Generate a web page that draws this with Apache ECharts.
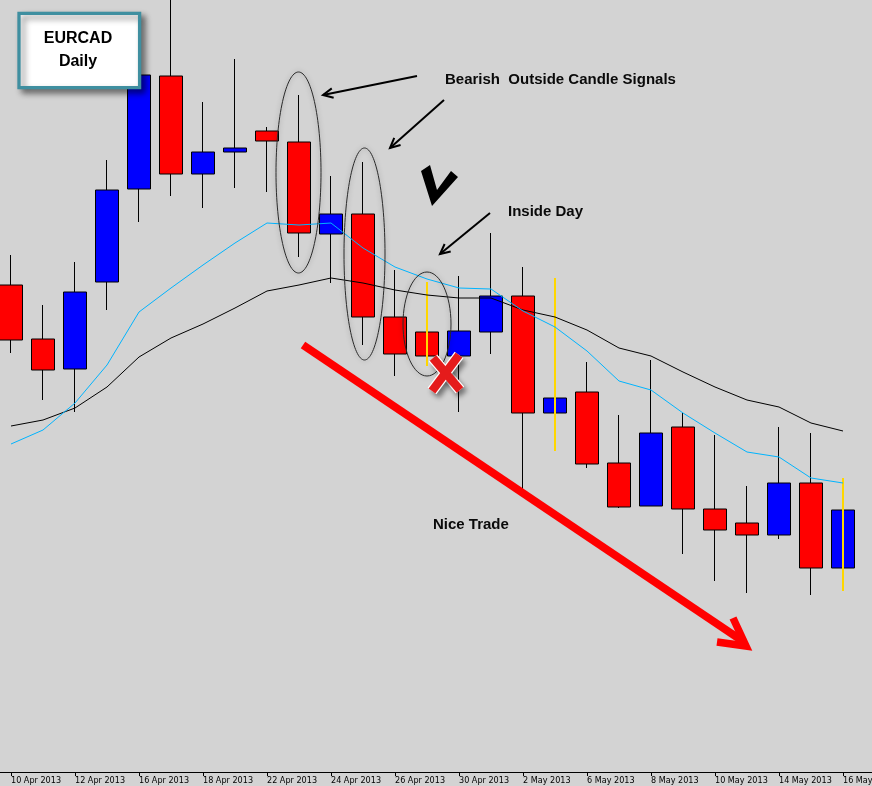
<!DOCTYPE html>
<html><head><meta charset="utf-8">
<script src="https://cdn.jsdelivr.net/npm/echarts@6/dist/echarts.min.js"></script>
<style>html,body{margin:0;padding:0;background:#d3d3d3;overflow:hidden}#c{width:872px;height:786px}</style>
</head><body><div id="c"></div>
<script>
// ---- data (EURCAD daily) ----
const dates = ['10 Apr 2013','11 Apr 2013','12 Apr 2013','15 Apr 2013','16 Apr 2013','17 Apr 2013','18 Apr 2013','19 Apr 2013',
  '22 Apr 2013','23 Apr 2013','24 Apr 2013','25 Apr 2013','26 Apr 2013','29 Apr 2013','30 Apr 2013','1 May 2013',
  '2 May 2013','3 May 2013','6 May 2013','7 May 2013','8 May 2013','9 May 2013','10 May 2013','13 May 2013',
  '14 May 2013','15 May 2013','16 May 2013'];
const opens  = [1.33075,1.32805,1.32655,1.33090,1.33555,1.34120,1.33630,1.33740,1.33845,1.33790,1.33330,1.33430,1.32915,1.32840,1.32720,1.32840,1.33020,1.32435,1.32540,1.32185,1.31970,1.32365,1.31955,1.31885,1.31825,1.32085,1.31660];
const closes = [1.32800,1.32650,1.33040,1.33550,1.34125,1.33630,1.33740,1.33760,1.33795,1.33335,1.33430,1.32915,1.32730,1.32720,1.32845,1.33020,1.32435,1.32510,1.32180,1.31965,1.32335,1.31955,1.31850,1.31825,1.32085,1.31660,1.31950];
const lows   = [1.32735,1.32500,1.32440,1.32950,1.33390,1.33520,1.33460,1.33560,1.33540,1.33215,1.33085,1.32775,1.32620,1.32670,1.32440,1.32730,1.32055,1.32245,1.32160,1.31960,1.31970,1.31730,1.31595,1.31535,1.31805,1.31525,1.31545];
const highs  = [1.33225,1.32975,1.33190,1.33700,1.34200,1.34530,1.33990,1.34205,1.33865,1.34025,1.33620,1.33690,1.33150,1.33090,1.33120,1.33335,1.33165,1.33110,1.32690,1.32425,1.32700,1.32435,1.32325,1.32070,1.32365,1.32335,1.32110];
const maFast = [1.32280,1.32350,1.32485,1.32675,1.32940,1.33060,1.33175,1.33285,1.33385,1.33375,1.33385,1.33260,1.33165,1.33105,1.33060,1.33055,1.32945,1.32865,1.32745,1.32595,1.32550,1.32435,1.32335,1.32240,1.32215,1.32110,1.32085];
const maSlow = [1.32370,1.32400,1.32460,1.32565,1.32715,1.32810,1.32880,1.32960,1.33045,1.33075,1.33110,1.33085,1.33050,1.33025,1.33010,1.33010,1.32950,1.32915,1.32850,1.32760,1.32720,1.32640,1.32565,1.32500,1.32465,1.32385,1.32345];
const yellowWick = [13,17,26];
const priceMin = 1.3064, priceMax = 1.3450;

// ---- build ----
const cats = dates.concat(['']);
const candle = dates.map((d,i)=>[opens[i],closes[i],lows[i],highs[i]]);
const yellowData = yellowWick.map(i=>[i,lows[i],highs[i]]);

const chart = echarts.init(document.getElementById('c'), null, {renderer:'canvas'});

function arrow(x1,y1,x2,y2,len,ang,color,w){
  const a = Math.atan2(y1-y2,x1-x2);
  const p1=[x2+len*Math.cos(a+ang), y2+len*Math.sin(a+ang)];
  const p2=[x2+len*Math.cos(a-ang), y2+len*Math.sin(a-ang)];
  return [
    {type:'polyline',shape:{points:[[x1,y1],[x2,y2]]},style:{stroke:color,lineWidth:w,fill:null},z:100},
    {type:'polyline',shape:{points:[p1,[x2,y2],p2]},style:{stroke:color,lineWidth:w,fill:null,lineJoin:'miter'},z:100}
  ];
}
const ellStyle = {stroke:'#2a2a2a',lineWidth:1,fill:null,shadowBlur:5,shadowColor:'rgba(0,0,0,0.35)'};
const txt = (x,y,t,size)=>({type:'text',x:x,y:y,z:101,style:{text:t,font:'bold '+size+'px "Liberation Sans", Arial, sans-serif',fill:'#0a0a0a',textVerticalAlign:'middle'}});

const graphics = [
  // title box
  {type:'rect',shape:{x:19,y:13.4,width:120.6,height:74.3},z:110,
   style:{fill:'#ffffff',stroke:'#3f8fa0',lineWidth:3.3,shadowBlur:6,shadowOffsetX:4,shadowOffsetY:4,shadowColor:'rgba(0,0,0,0.45)'}},
  {type:'text',x:78,y:39,z:111,style:{text:'EURCAD',font:'bold 16px "Liberation Sans", Arial, sans-serif',fill:'#000',textAlign:'center',textVerticalAlign:'middle'}},
  {type:'text',x:78,y:62,z:111,style:{text:'Daily',font:'bold 16px "Liberation Sans", Arial, sans-serif',fill:'#000',textAlign:'center',textVerticalAlign:'middle'}},
  // ellipses
  {type:'ellipse',shape:{cx:298.5,cy:172.5,rx:22.5,ry:100.5},style:ellStyle,z:99},
  {type:'ellipse',shape:{cx:364.5,cy:254,rx:20.5,ry:106},style:ellStyle,z:99},
  {type:'ellipse',shape:{cx:427,cy:324,rx:24,ry:52},style:ellStyle,z:99},
  // texts
  txt(445,80,'Bearish  Outside Candle Signals',15),
  txt(508,212,'Inside Day',15),
  txt(433,525,'Nice Trade',15),
  // check mark
  {type:'polygon',shape:{points:[[421,171],[430,165],[437,190],[451,171],[458,177],[432,206]]},style:{fill:'#000'},z:100},
  // red X
  {type:'polyline',shape:{points:[[433,358],[460,390]]},z:102,style:{stroke:'#ffffff',lineWidth:11,shadowBlur:5,shadowOffsetX:3,shadowOffsetY:4,shadowColor:'rgba(0,0,0,0.45)'}},
  {type:'polyline',shape:{points:[[459,355],[432,391]]},z:102,style:{stroke:'#ffffff',lineWidth:11,shadowBlur:5,shadowOffsetX:3,shadowOffsetY:4,shadowColor:'rgba(0,0,0,0.45)'}},
  {type:'polyline',shape:{points:[[433,358],[460,390]]},z:103,style:{stroke:'#e51b1b',lineWidth:8.5}},
  {type:'polyline',shape:{points:[[459,355],[432,391]]},z:103,style:{stroke:'#e51b1b',lineWidth:8.5}},
  // big red arrow
  {type:'polyline',shape:{points:[[303,345],[744,642]]},z:100,style:{stroke:'#ff0000',lineWidth:8,fill:null}},
  {type:'polyline',shape:{points:[[717,642],[746,646],[733,618]]},z:100,style:{stroke:'#ff0000',lineWidth:7.5,fill:null,lineJoin:'miter'}}
].concat(arrow(417,76,323,95,11,0.45,'#000',2))
 .concat(arrow(444,100,390,148,11,0.45,'#000',2))
 .concat(arrow(490,213,440,254,11,0.45,'#000',2));

const option = {
  animation:false,
  backgroundColor:'#d3d3d3',
  grid:{left:-5,top:0,width:896,height:772,outerBoundsMode:'none',containLabel:false},
  xAxis:{type:'category',data:cats,boundaryGap:true,
    axisLine:{show:true,lineStyle:{color:'#000',width:1}},
    axisTick:{show:true,alignWithLabel:true,length:4,interval:(i)=>i%2===0 && i<dates.length,lineStyle:{color:'#000'}},
    axisLabel:{show:true,interval:(i)=>i%2===0 && i<dates.length,align:'left',margin:4,color:'#000',fontSize:9,fontFamily:'"DejaVu Sans Condensed", "Liberation Sans Narrow", sans-serif'},
    splitLine:{show:false}},
  yAxis:{type:'value',min:priceMin,max:priceMax,show:false,scale:true,splitLine:{show:false}},
  series:[
    {type:'candlestick',data:candle,barWidth:23,
     itemStyle:{color:'#0000ff',color0:'#ff0000',borderColor:'#000',borderColor0:'#000',borderWidth:1}},
    {type:'custom',data:yellowData,z:3,
     renderItem:(params,api)=>{
       const p1=api.coord([api.value(0),api.value(1)]);
       const p2=api.coord([api.value(0),api.value(2)]);
       return {type:'rect',shape:{x:Math.round(p1[0])-1,y:p2[1],width:2,height:p1[1]-p2[1]},style:{fill:'#ffd700',stroke:null}};
     }},
    {type:'line',data:maSlow,symbol:'none',z:4,lineStyle:{color:'#000',width:1}},
    {type:'line',data:maFast,symbol:'none',z:4,lineStyle:{color:'#00b4ff',width:1}}
  ],
  graphic:graphics
};
chart.setOption(option);
</script></body></html>
